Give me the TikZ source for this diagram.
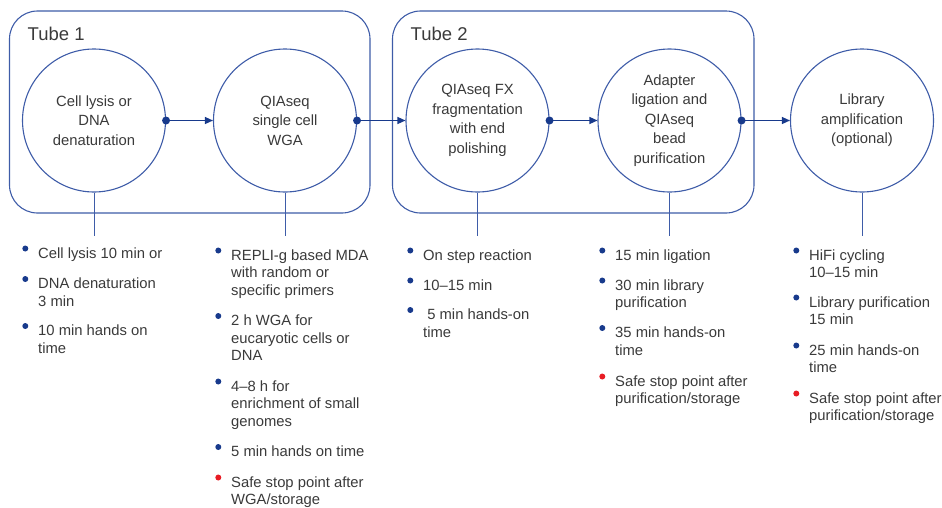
\documentclass[tikz,border=0pt]{standalone}
\usepackage{fontspec}
\setmainfont{Liberation Sans}
\usetikzlibrary{arrows.meta}
\definecolor{lineblue}{RGB}{62,92,168}
\definecolor{dotblue}{RGB}{24,58,140}
\definecolor{txt}{RGB}{58,58,58}
\definecolor{stopred}{RGB}{232,28,36}
\newcommand\bitem[5]{%
  \node[btext] (#1) at (#2,#3) {\begin{tabular}[t]{@{}l@{}}#5\end{tabular}};
  \fill[#4] (#2-12.7,#3-9.5) circle (3pt);}
\begin{document}
\begin{tikzpicture}[x=1pt,y=-1pt,
  tube/.style={draw=lineblue,line width=1.1pt,rounded corners=28pt},
  tubelabel/.style={anchor=base west,inner sep=0pt,text=txt,font=\fontsize{18.5}{22}\selectfont},
  stepcircle/.style={circle,draw=lineblue,line width=1.1pt,minimum size=143pt,inner sep=0pt,align=center,text=txt,font=\fontsize{14.8}{19.5}\selectfont},
  flow/.style={draw=dotblue,line width=1.3pt,-{Triangle[length=8pt,width=7pt]}},
  drop/.style={draw=lineblue,line width=1pt},
  btext/.style={anchor=base west,inner sep=0pt,text=txt,font=\fontsize{14.8}{17.5}\selectfont},
]
\useasboundingbox (0,0) rectangle (942,507);

% tubes
\draw[tube] (9.5,11) rectangle (370,213);
\draw[tube] (392.5,11) rectangle (754,213);
\node[tubelabel] (t1) at (27.5,40) {Tube 1};
\node[tubelabel] (t2) at (410.5,40) {Tube 2};

% steps
\node[stepcircle] (s1) at (94,120.5) {Cell lysis or\\DNA\\denaturation};
\node[stepcircle] (s2) at (285,120.5) {QIAseq\\single cell\\WGA};
\node[stepcircle] (s3) at (477.5,120.5) {QIAseq FX\\fragmentation\\with end\\polishing};
\node[stepcircle] (s4) at (669.5,120.5) {Adapter\\ligation and\\QIAseq\\bead\\purification};
\node[stepcircle] (s5) at (862,120.5) {Library\\amplification\\(optional)};

% flow arrows
\foreach \a/\b in {s1/s2,s2/s3,s3/s4,s4/s5}{
  \draw[flow] (\a.east) -- (\b.west);
  \fill[dotblue] (\a.east) circle (4pt);
}

% drop lines
\coordinate (d1) at (94,236);
\coordinate (d2) at (285,236);
\coordinate (d3) at (477.5,236);
\coordinate (d4) at (669.5,236);
\coordinate (d5) at (862,236);
\foreach \s/\d in {s1/d1,s2/d2,s3/d3,s4/d4,s5/d5}{
  \draw[drop] (\s.south) -- (\d);
}

% column 1
\bitem{a1}{38}{258}{dotblue}{Cell lysis 10 min or}
\bitem{a2}{38}{288.5}{dotblue}{DNA denaturation\\3 min}
\bitem{a3}{38}{335.5}{dotblue}{10 min hands on\\time}

% column 2
\bitem{b1}{231}{260}{dotblue}{REPLI-g based MDA\\with random or\\specific primers}
\bitem{b2}{231}{325.5}{dotblue}{2 h WGA for\\eucaryotic cells or\\DNA}
\bitem{b3}{231}{391}{dotblue}{4–8 h for\\enrichment of small\\genomes}
\bitem{b4}{231}{456.5}{dotblue}{5 min hands on time}
\bitem{b5}{231}{487}{stopred}{Safe stop point after\\WGA/storage}

% column 3
\bitem{c1}{423}{260}{dotblue}{On step reaction}
\bitem{c2}{423}{290}{dotblue}{10–15 min}
\bitem{c3}{423}{319.5}{dotblue}{\ 5 min hands-on\\time}

% column 4
\bitem{e1}{615}{260}{dotblue}{15 min ligation}
\bitem{e2}{615}{290}{dotblue}{30 min library\\purification}
\bitem{e3}{615}{337.5}{dotblue}{35 min hands-on\\time}
\bitem{e4}{615}{386}{stopred}{Safe stop point after\\purification/storage}

% column 5
\bitem{f1}{809}{260}{dotblue}{HiFi cycling\\10–15 min}
\bitem{f2}{809}{307}{dotblue}{Library purification\\15 min}
\bitem{f3}{809}{355}{dotblue}{25 min hands-on\\time}
\bitem{f4}{809}{403}{stopred}{Safe stop point after\\purification/storage}
\end{tikzpicture}
\end{document}
